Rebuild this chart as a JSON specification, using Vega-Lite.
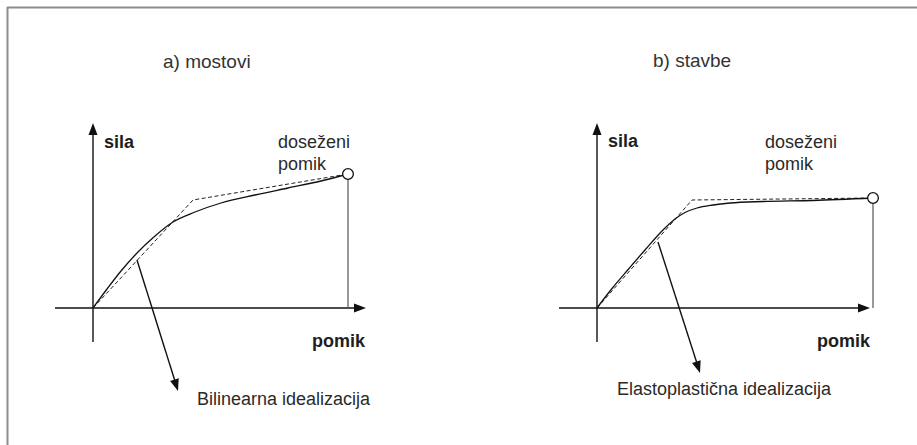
{
  "$schema": "https://vega.github.io/schema/vega-lite/v6.json",
  "width": 917,
  "height": 445,
  "autosize": "none",
  "padding": 0,
  "background": "white",
  "config": {"view": {"stroke": null}},
  "datasets": {
    "frame": [
      {"x": -86, "y": 300.5, "x2": 824, "y2": 300.5},
      {"x": -85.5, "y": 301, "x2": -85.5, "y2": -137}
    ],
    "axes": [
      {"x": 0, "y": -34, "x2": 0, "y2": 178},
      {"x": -38, "y": 0, "x2": 266, "y2": 0},
      {"x": 504, "y": -34, "x2": 504, "y2": 178},
      {"x": 466, "y": 0, "x2": 770, "y2": 0}
    ],
    "drops": [
      {"x": 255, "y": 0, "y2": 134},
      {"x": 780, "y": 0, "y2": 110}
    ],
    "pointers": [
      {"x": 44, "y": 48, "x2": 83.5, "y2": -78},
      {"x": 565, "y": 66, "x2": 605.5, "y2": -60}
    ],
    "heads": [
      {"x": 0, "y": 185, "a": 0},
      {"x": 273, "y": 0, "a": 90},
      {"x": 504, "y": 185, "a": 0},
      {"x": 777, "y": 0, "a": 90},
      {"x": 85, "y": -83, "a": 162.6},
      {"x": 607, "y": -65, "a": 162.3}
    ],
    "curve": [
      {"panel": "a", "x": 0, "y": 0},
      {"panel": "a", "x": 14, "y": 19},
      {"panel": "a", "x": 28, "y": 37},
      {"panel": "a", "x": 44, "y": 55},
      {"panel": "a", "x": 62, "y": 72},
      {"panel": "a", "x": 80, "y": 86},
      {"panel": "a", "x": 102, "y": 96},
      {"panel": "a", "x": 128, "y": 105},
      {"panel": "a", "x": 162, "y": 113},
      {"panel": "a", "x": 195, "y": 120},
      {"panel": "a", "x": 228, "y": 127},
      {"panel": "a", "x": 255, "y": 134},
      {"panel": "b", "x": 504, "y": 0},
      {"panel": "b", "x": 519, "y": 19.5},
      {"panel": "b", "x": 536, "y": 39.5},
      {"panel": "b", "x": 552, "y": 58},
      {"panel": "b", "x": 570, "y": 78},
      {"panel": "b", "x": 582, "y": 89},
      {"panel": "b", "x": 592, "y": 95.5},
      {"panel": "b", "x": 604, "y": 100},
      {"panel": "b", "x": 620, "y": 103},
      {"panel": "b", "x": 637, "y": 105},
      {"panel": "b", "x": 670, "y": 106.5},
      {"panel": "b", "x": 720, "y": 107.5},
      {"panel": "b", "x": 780, "y": 110}
    ],
    "ideal": [
      {"panel": "a", "x": 0, "y": 0},
      {"panel": "a", "x": 100, "y": 108},
      {"panel": "a", "x": 255, "y": 134},
      {"panel": "b", "x": 504, "y": 0},
      {"panel": "b", "x": 599, "y": 108},
      {"panel": "b", "x": 780, "y": 110}
    ],
    "ends": [
      {"x": 255, "y": 134},
      {"x": 780, "y": 110}
    ],
    "titles": [
      {"x": 70, "y": 240, "t": "a) mostovi"},
      {"x": 560, "y": 241, "t": "b) stavbe"}
    ],
    "bold": [
      {"x": 11, "y": 160, "t": "sila"},
      {"x": 515, "y": 161, "t": "sila"},
      {"x": 219, "y": -39, "t": "pomik"},
      {"x": 724, "y": -39, "t": "pomik"}
    ],
    "labels": [
      {"x": 185, "y": 160, "t": "doseženi"},
      {"x": 185, "y": 138, "t": "pomik"},
      {"x": 672, "y": 160, "t": "doseženi"},
      {"x": 672, "y": 138, "t": "pomik"},
      {"x": 104, "y": -97, "t": "Bilinearna idealizacija"},
      {"x": 524, "y": -87, "t": "Elastoplastična idealizacija"}
    ]
  },
  "layer": [
    {
      "data": {"name": "frame"},
      "mark": {"type": "rule", "color": "#8c8c8c", "strokeWidth": 2},
      "encoding": {
        "x": {"field": "x", "type": "quantitative", "scale": {"domain": [-93, 824], "nice": false, "zero": false}, "axis": null},
        "y": {"field": "y", "type": "quantitative", "scale": {"domain": [-137, 308], "nice": false, "zero": false}, "axis": null},
        "x2": {"field": "x2"},
        "y2": {"field": "y2"}
      }
    },
    {
      "data": {"name": "axes"},
      "mark": {"type": "rule", "color": "#111", "strokeWidth": 1.4},
      "encoding": {
        "x": {"field": "x", "type": "quantitative", "scale": {"domain": [-93, 824], "nice": false, "zero": false}, "axis": null},
        "y": {"field": "y", "type": "quantitative", "scale": {"domain": [-137, 308], "nice": false, "zero": false}, "axis": null},
        "x2": {"field": "x2"},
        "y2": {"field": "y2"}
      }
    },
    {
      "data": {"name": "drops"},
      "mark": {"type": "rule", "color": "#555", "strokeWidth": 1.2},
      "encoding": {
        "x": {"field": "x", "type": "quantitative", "scale": {"domain": [-93, 824], "nice": false, "zero": false}, "axis": null},
        "y": {"field": "y", "type": "quantitative", "scale": {"domain": [-137, 308], "nice": false, "zero": false}, "axis": null},
        "y2": {"field": "y2"}
      }
    },
    {
      "data": {"name": "pointers"},
      "mark": {"type": "rule", "color": "#111", "strokeWidth": 1.4},
      "encoding": {
        "x": {"field": "x", "type": "quantitative", "scale": {"domain": [-93, 824], "nice": false, "zero": false}, "axis": null},
        "y": {"field": "y", "type": "quantitative", "scale": {"domain": [-137, 308], "nice": false, "zero": false}, "axis": null},
        "x2": {"field": "x2"},
        "y2": {"field": "y2"}
      }
    },
    {
      "data": {"name": "ideal"},
      "mark": {"type": "line", "color": "#222", "strokeWidth": 1, "strokeDash": [4, 2.5]},
      "encoding": {
        "x": {"field": "x", "type": "quantitative", "scale": {"domain": [-93, 824], "nice": false, "zero": false}, "axis": null},
        "y": {"field": "y", "type": "quantitative", "scale": {"domain": [-137, 308], "nice": false, "zero": false}, "axis": null},
        "detail": {"field": "panel", "type": "nominal"}
      }
    },
    {
      "data": {"name": "curve"},
      "mark": {"type": "line", "color": "#111", "strokeWidth": 1.3, "interpolate": "monotone"},
      "encoding": {
        "x": {"field": "x", "type": "quantitative", "scale": {"domain": [-93, 824], "nice": false, "zero": false}, "axis": null},
        "y": {"field": "y", "type": "quantitative", "scale": {"domain": [-137, 308], "nice": false, "zero": false}, "axis": null},
        "detail": {"field": "panel", "type": "nominal"}
      }
    },
    {
      "data": {"name": "heads"},
      "mark": {"type": "point", "shape": "M0,0L0.5625,1.5L-0.5625,1.5Z", "size": 256, "filled": true, "color": "#111", "opacity": 1, "strokeWidth": 0},
      "encoding": {
        "x": {"field": "x", "type": "quantitative", "scale": {"domain": [-93, 824], "nice": false, "zero": false}, "axis": null},
        "y": {"field": "y", "type": "quantitative", "scale": {"domain": [-137, 308], "nice": false, "zero": false}, "axis": null},
        "angle": {"field": "a", "type": "quantitative", "scale": null}
      }
    },
    {
      "data": {"name": "ends"},
      "mark": {"type": "point", "shape": "circle", "size": 115, "filled": true, "fill": "white", "stroke": "#111", "strokeWidth": 1.3, "opacity": 1},
      "encoding": {
        "x": {"field": "x", "type": "quantitative", "scale": {"domain": [-93, 824], "nice": false, "zero": false}, "axis": null},
        "y": {"field": "y", "type": "quantitative", "scale": {"domain": [-137, 308], "nice": false, "zero": false}, "axis": null}
      }
    },
    {
      "data": {"name": "titles"},
      "mark": {"type": "text", "align": "left", "baseline": "alphabetic", "font": "Liberation Sans, sans-serif", "fontSize": 19, "color": "#333"},
      "encoding": {
        "x": {"field": "x", "type": "quantitative", "scale": {"domain": [-93, 824], "nice": false, "zero": false}, "axis": null},
        "y": {"field": "y", "type": "quantitative", "scale": {"domain": [-137, 308], "nice": false, "zero": false}, "axis": null},
        "text": {"field": "t"}
      }
    },
    {
      "data": {"name": "bold"},
      "mark": {"type": "text", "align": "left", "baseline": "alphabetic", "font": "Liberation Sans, sans-serif", "fontSize": 18, "fontWeight": "bold", "color": "#1e1e1e"},
      "encoding": {
        "x": {"field": "x", "type": "quantitative", "scale": {"domain": [-93, 824], "nice": false, "zero": false}, "axis": null},
        "y": {"field": "y", "type": "quantitative", "scale": {"domain": [-137, 308], "nice": false, "zero": false}, "axis": null},
        "text": {"field": "t"}
      }
    },
    {
      "data": {"name": "labels"},
      "mark": {"type": "text", "align": "left", "baseline": "alphabetic", "font": "Liberation Sans, sans-serif", "fontSize": 18, "color": "#2a2a2a"},
      "encoding": {
        "x": {"field": "x", "type": "quantitative", "scale": {"domain": [-93, 824], "nice": false, "zero": false}, "axis": null},
        "y": {"field": "y", "type": "quantitative", "scale": {"domain": [-137, 308], "nice": false, "zero": false}, "axis": null},
        "text": {"field": "t"}
      }
    }
  ]
}
